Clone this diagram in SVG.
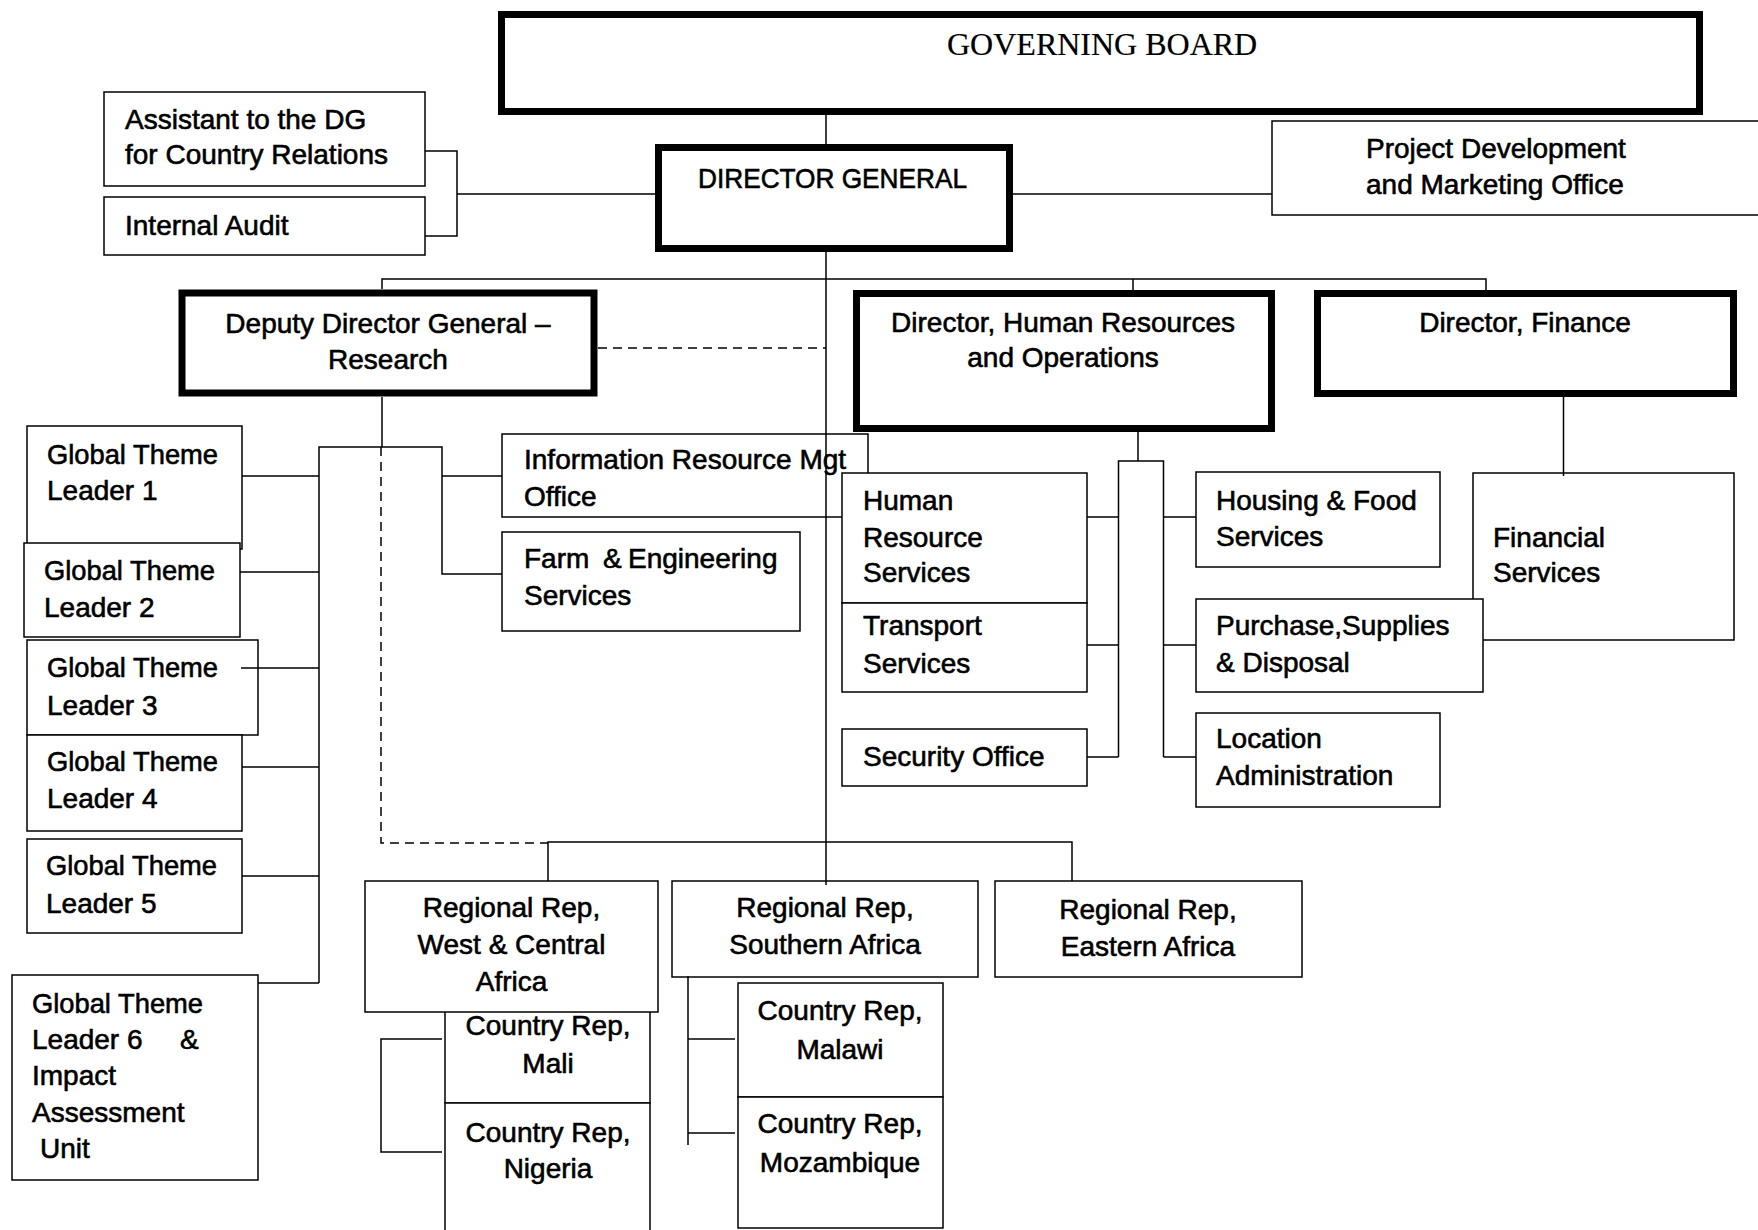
<svg xmlns="http://www.w3.org/2000/svg" width="1758" height="1230" viewBox="0 0 1758 1230">
<style>
.thin{fill:#fff;stroke:#000;stroke-width:1.5}
.thick{fill:#fff;stroke:#000;stroke-width:7}
text{font-family:"Liberation Sans",Arial,sans-serif;font-size:28px;fill:#000;stroke:#000;stroke-width:0.6}
.c{text-anchor:middle}
.serif{font-family:"Liberation Serif","Times New Roman",serif;font-size:32px;stroke-width:0.2}
#connectors path{fill:none;stroke:#000;stroke-width:1.5}
#connectors .dash{stroke-dasharray:9 6}
</style>
<rect x="0" y="0" width="1758" height="1230" fill="#fff"/>

<g id="governing-board">
<rect class="thick" x="501.5" y="14.5" width="1198" height="97"/>
<text class="serif" x="947" y="55">GOVERNING BOARD</text>
</g>
<g id="director-general">
<rect class="thick" x="658.5" y="147.5" width="351" height="101"/>
<text x="698" y="188" textLength="269" lengthAdjust="spacingAndGlyphs">DIRECTOR GENERAL</text>
</g>
<g id="assistant-dg">
<rect class="thin" x="104" y="92" width="321" height="94"/>
<text x="125" y="129">Assistant to the DG</text>
<text x="125" y="164">for Country Relations</text>
</g>
<g id="internal-audit">
<rect class="thin" x="104" y="197" width="321" height="58"/>
<text x="125" y="235">Internal Audit</text>
</g>
<g id="project-development">
<rect class="thin" x="1272" y="121" width="510" height="94"/>
<text x="1366" y="158">Project Development</text>
<text x="1366" y="194">and Marketing Office</text>
</g>
<g id="ddg-research">
<rect class="thick" x="182" y="293" width="412" height="100"/>
<text class="c" x="388" y="333">Deputy Director General –</text>
<text class="c" x="388" y="369">Research</text>
</g>
<g id="director-hr-ops">
<rect class="thick" x="856.5" y="293.5" width="415" height="135"/>
<text class="c" x="1063" y="332">Director, Human Resources</text>
<text class="c" x="1063" y="367">and Operations</text>
</g>
<g id="director-finance">
<rect class="thick" x="1317.5" y="293.5" width="416" height="100"/>
<text class="c" x="1525" y="332">Director, Finance</text>
</g>

<g id="gtl1">
<rect class="thin" x="27" y="426" width="215" height="123"/>
<text x="47" y="464" textLength="171" lengthAdjust="spacingAndGlyphs">Global Theme</text>
<text x="47" y="500">Leader 1</text>
</g>
<g id="gtl2">
<rect class="thin" x="24" y="543" width="216" height="94"/>
<text x="44" y="580" textLength="171" lengthAdjust="spacingAndGlyphs">Global Theme</text>
<text x="44" y="617">Leader 2</text>
</g>
<g id="gtl3">
<rect class="thin" x="27" y="640" width="231" height="95"/>
<text x="47" y="677" textLength="171" lengthAdjust="spacingAndGlyphs">Global Theme</text>
<text x="47" y="715">Leader 3</text>
</g>
<g id="gtl4">
<rect class="thin" x="27" y="735" width="215" height="96"/>
<text x="47" y="771" textLength="171" lengthAdjust="spacingAndGlyphs">Global Theme</text>
<text x="47" y="808">Leader 4</text>
</g>
<g id="gtl5">
<rect class="thin" x="27" y="839" width="215" height="94"/>
<text x="46" y="875" textLength="171" lengthAdjust="spacingAndGlyphs">Global Theme</text>
<text x="46" y="913">Leader 5</text>
</g>
<g id="gtl6">
<rect class="thin" x="12" y="975" width="246" height="205"/>
<text x="32" y="1013" textLength="171" lengthAdjust="spacingAndGlyphs">Global Theme</text>
<text x="32" y="1049">Leader 6<tspan x="180">&amp;</tspan></text>
<text x="32" y="1085">Impact</text>
<text x="32" y="1122">Assessment</text>
<text x="40" y="1158">Unit</text>
</g>

<g id="info-resource">
<rect class="thin" x="502" y="434" width="366" height="83"/>
<text x="524" y="469">Information Resource Mgt</text>
<text x="524" y="506">Office</text>
</g>
<g id="farm-engineering">
<rect class="thin" x="502" y="532" width="298" height="99"/>
<text x="524" y="568">Farm<tspan x="603">&amp;</tspan><tspan x="628">Engineering</tspan></text>
<text x="524" y="605">Services</text>
</g>

<g id="hr-services">
<rect class="thin" x="842" y="473" width="245" height="130"/>
<text x="863" y="510">Human</text>
<text x="863" y="547">Resource</text>
<text x="863" y="582">Services</text>
</g>
<g id="transport">
<rect class="thin" x="842" y="603" width="245" height="89"/>
<text x="863" y="635">Transport</text>
<text x="863" y="673">Services</text>
</g>
<g id="security">
<rect class="thin" x="842" y="729" width="245" height="57"/>
<text x="863" y="766">Security Office</text>
</g>
<g id="housing-food">
<rect class="thin" x="1196" y="472" width="244" height="95"/>
<text x="1216" y="510">Housing &amp; Food</text>
<text x="1216" y="546">Services</text>
</g>
<g id="financial-services">
<rect class="thin" x="1473" y="473" width="261" height="167"/>
<text x="1493" y="547">Financial</text>
<text x="1493" y="582">Services</text>
</g>
<g id="purchase-supplies">
<rect class="thin" x="1196" y="599" width="287" height="93"/>
<text x="1216" y="635">Purchase,Supplies</text>
<text x="1216" y="672">&amp; Disposal</text>
</g>
<g id="location-admin">
<rect class="thin" x="1196" y="713" width="244" height="94"/>
<text x="1216" y="748">Location</text>
<text x="1216" y="785">Administration</text>
</g>

<g id="country-mali">
<rect class="thin" x="445" y="1000" width="205" height="103"/>
<text class="c" x="548" y="1035">Country Rep,</text>
<text class="c" x="548" y="1073">Mali</text>
</g>
<g id="regional-west-central">
<rect class="thin" x="365" y="881" width="293" height="131"/>
<text class="c" x="511.5" y="917">Regional Rep,</text>
<text class="c" x="511.5" y="954">West &amp; Central</text>
<text class="c" x="511.5" y="991">Africa</text>
</g>
<g id="country-nigeria">
<rect class="thin" x="445" y="1103" width="205" height="140"/>
<text class="c" x="548" y="1142">Country Rep,</text>
<text class="c" x="548" y="1178">Nigeria</text>
</g>
<g id="regional-southern">
<rect class="thin" x="672" y="881" width="306" height="96"/>
<text class="c" x="825" y="917">Regional Rep,</text>
<text class="c" x="825" y="954">Southern Africa</text>
</g>
<g id="regional-eastern">
<rect class="thin" x="995" y="881" width="307" height="96"/>
<text class="c" x="1148" y="919">Regional Rep,</text>
<text class="c" x="1148" y="956">Eastern Africa</text>
</g>
<g id="country-malawi">
<rect class="thin" x="738" y="983" width="205" height="114"/>
<text class="c" x="840" y="1020">Country Rep,</text>
<text class="c" x="840" y="1059">Malawi</text>
</g>
<g id="country-mozambique">
<rect class="thin" x="738" y="1097" width="205" height="131"/>
<text class="c" x="840" y="1133">Country Rep,</text>
<text class="c" x="840" y="1172">Mozambique</text>
</g>

<g id="connectors">
<path d="M826 115V144"/>
<path d="M826 252V885"/>
<path d="M425 151H457V236H425M457 194H655"/>
<path d="M1013 194H1272"/>
<path d="M382 289V279H1486V290M1133 279V290"/>
<path class="dash" d="M598 348H826"/>
<path d="M382 397V447"/>
<path class="dash" d="M381 447V843H548"/>
<path d="M319 983V447H442V574H502M442 476H502"/>
<path d="M319 983H258M242 476H319M240 572H319M241 668H319M242 767H319M242 876H319"/>
<path d="M1138 432V461M1118.5 757V461H1163.5V757"/>
<path d="M1087 517H1118.5M1087 645H1118.5M1087 757H1118.5M1163.5 517H1196M1163.5 645H1196M1163.5 757H1196"/>
<path d="M1563.5 397V476"/>
<path d="M548 881V842H1072V881"/>
<path d="M442 1039H381V1152H442"/>
<path d="M688 976V1145M688 1039H735M688 1133H735"/>
</g>
</svg>
